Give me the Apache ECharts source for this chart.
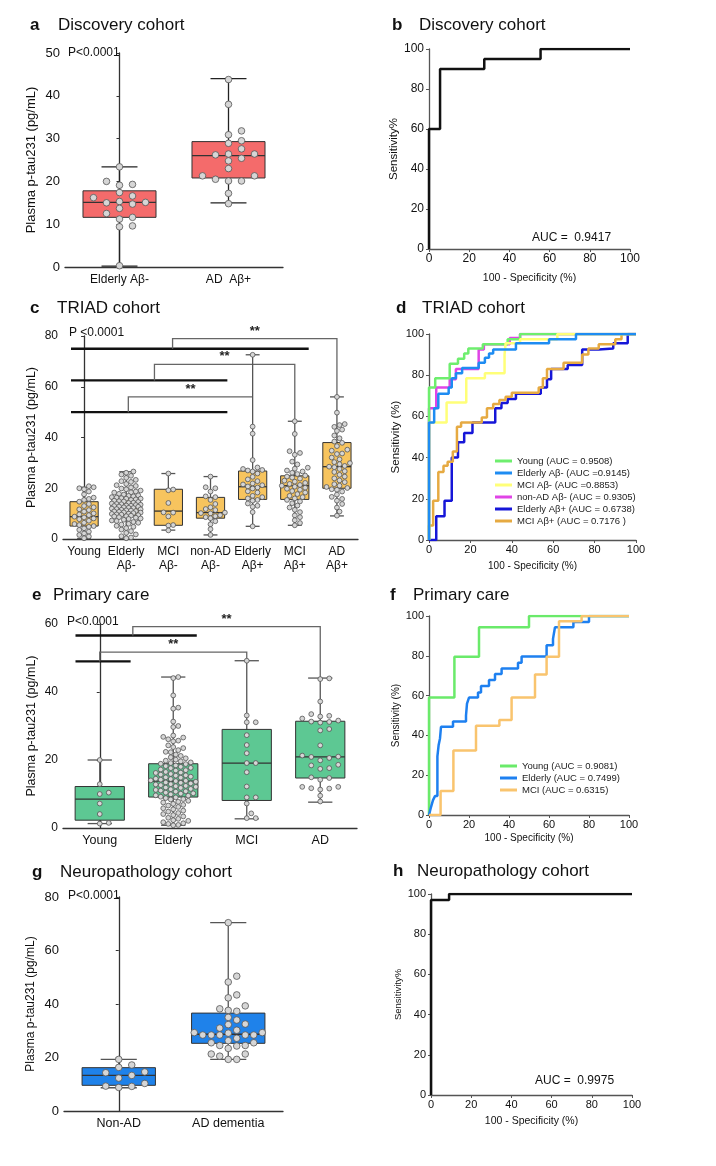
<!DOCTYPE html>
<html lang="en">
<head>
<meta charset="UTF-8">
<title>Plasma p-tau231 across cohorts</title>
<script src="https://cdn.jsdelivr.net/npm/echarts@6/dist/echarts.min.js"></script>
<style>body { margin: 0; background: #fff; }</style>
</head>
<body>
<div id="main" style="width: 716px; height: 1166px"></div>
<script>
var FONT = "'Liberation Sans', Arial, Helvetica, sans-serif";

// a - discovery cohort
var catA = ['Elderly Aβ-', 'AD  Aβ+'];
var boxA = [[0.2, 11.6, 15.1, 17.8, 23.4], [15.0, 20.8, 26.0, 29.3, 44.0]];
var ptsA = [
    [23.4, 20.0, 19.3, 19.1, 17.4, 16.6, 16.2, 15.3, 15.1, 15.0, 14.7, 13.7, 12.5, 11.6, 11.2, 9.6, 9.4, 0.3],
    [43.8, 38.0, 31.8, 30.9, 29.5, 28.9, 27.6, 26.4, 26.4, 26.2, 25.4, 24.8, 23.0, 21.3, 21.3, 20.5, 20.1, 20.1, 17.2, 14.8]
];

// b - discovery ROC
var rocB = [[0, 0], [0, 60], [5.5, 60], [5.5, 90], [27.5, 90], [27.5, 95], [55.5, 95], [55.5, 100], [100, 100]];

// c - TRIAD cohort
var catC = ['Young', 'Elderly\nAβ-', 'MCI\nAβ-', 'non-AD\nAβ-', 'Elderly\nAβ+', 'MCI\nAβ+', 'AD\nAβ+'];
var boxC = [
    [0.2, 5.1, 8.8, 14.7, 20.4],
    [0.3, 9.2, 13.0, 16.0, 26.5],
    [3.5, 5.4, 11.0, 19.6, 25.8],
    [1.6, 8.2, 10.4, 16.4, 24.6],
    [5.0, 15.6, 20.6, 26.8, 72.6],
    [5.4, 15.6, 21.0, 24.9, 46.4],
    [9.1, 20.0, 28.5, 38.0, 56.0]
];
var ptsC = [
    [20.8, 20.4, 20.0, 19.6, 18.7, 17.6, 16.3, 15.8, 15.4, 14.7, 13.8, 13.0, 12.5, 11.7, 11.4, 10.8, 10.1, 9.7, 9.4, 8.8, 8.5, 8.1, 7.8, 7.2, 6.4, 5.9, 5.5, 5.1, 4.8, 4.2, 3.6, 2.9, 2.2, 1.6, 1.0, 0.3],
    [26.6, 26.1, 25.4, 24.9, 24.1, 23.3, 22.8, 22.5, 21.7, 21.2, 20.9, 20.3, 19.9, 19.6, 19.1, 18.7, 18.4, 18.3, 17.8, 17.5, 17.2, 17.0, 16.8, 16.5, 16.3, 16.1, 15.9, 15.9, 15.6, 15.4, 15.1, 14.9, 14.8, 14.6, 14.3, 14.2, 14.0, 13.8, 13.7, 13.5, 13.4, 13.2, 13.1, 13.0, 12.8, 12.7, 12.5, 12.3, 12.2, 12.0, 11.8, 11.7, 11.5, 11.3, 11.2, 11.0, 10.9, 10.7, 10.5, 10.4, 10.2, 10.0, 9.9, 9.7, 9.6, 9.4, 9.2, 9.0, 8.9, 8.6, 8.4, 8.1, 7.9, 7.6, 7.3, 7.1, 6.7, 6.4, 6.0, 5.7, 5.2, 4.8, 4.3, 3.7, 3.1, 2.4, 1.8, 1.1, 0.6, 0.3],
    [25.8, 19.5, 19.2, 14.2, 10.5, 10.4, 8.9, 5.5, 5.3, 3.4],
    [24.6, 20.4, 20.0, 18.7, 16.8, 16.5, 15.4, 13.8, 12.5, 11.8, 11.4, 10.4, 10.2, 10.1, 9.4, 9.0, 8.6, 8.2, 7.0, 5.8, 3.9, 1.6],
    [72.6, 44.3, 41.5, 31.1, 28.2, 27.6, 27.2, 27.0, 26.6, 25.8, 24.5, 23.5, 22.8, 21.9, 21.5, 21.2, 20.7, 20.3, 19.9, 18.8, 18.3, 17.0, 16.5, 16.0, 15.4, 15.1, 14.0, 13.1, 12.7, 10.6, 5.0],
    [46.4, 41.4, 34.6, 33.9, 33.2, 30.5, 29.4, 28.1, 27.7, 27.0, 26.6, 26.1, 25.6, 25.0, 24.6, 24.2, 23.8, 23.0, 22.6, 22.1, 21.7, 21.3, 21.0, 20.6, 20.2, 19.8, 19.4, 18.9, 18.3, 17.7, 17.0, 16.5, 16.0, 15.4, 14.8, 14.1, 13.2, 12.4, 11.5, 10.6, 9.3, 8.6, 7.4, 6.3, 5.4],
    [56.0, 49.8, 45.3, 44.9, 44.2, 43.1, 42.6, 40.8, 39.7, 38.4, 37.9, 36.6, 35.2, 34.8, 33.7, 33.5, 32.1, 31.4, 30.3, 29.9, 29.5, 28.8, 28.5, 28.3, 27.6, 26.7, 26.4, 25.3, 24.6, 23.9, 23.1, 22.4, 21.6, 21.0, 20.5, 20.1, 19.6, 19.4, 18.7, 17.5, 16.6, 15.8, 15.1, 13.8, 12.4, 10.8, 9.2]
];
// [from x, to x, y] and [x, y start, y top, x end, y end]
var barsC = [[-0.31, 5.33, 75], [-0.31, 3.4, 62.5], [-0.31, 3.4, 50]];
var bracketsC = [[2.1, 75, 79, 6, 56], [1.67, 62.5, 68.8, 5, 46.4], [1.05, 50, 56, 4, 56]];

// d - TRIAD ROC
var namesD = ['Young (AUC = 0.9508)', 'Elderly Aβ- (AUC =0.9145)', 'MCI Aβ- (AUC =0.8853)', 'non-AD Aβ- (AUC = 0.9305)', 'Elderly Aβ+ (AUC = 0.6738)', 'MCI Aβ+ (AUC = 0.7176 )'];
var colorsD = ['#6eee6e', '#1e8cf2', '#ffff78', '#e044e6', '#1616d8', '#e6aa42'];
var youngD = [[0, 0], [0, 74], [3, 74], [3, 78.5], [10, 78.5], [10, 85.5], [14, 85.5], [14, 88], [17, 88], [17, 90.5], [19, 90.5], [19, 93], [26, 93], [26, 95], [38, 95], [38, 97.5], [44, 97.5], [44, 100], [100, 100]];
var elderlyNegD = [[0, 0], [0, 57], [2.5, 57], [2.5, 64], [4.5, 64], [4.5, 71], [9.5, 71], [9.5, 74], [11, 74], [11, 78.5], [13, 78.5], [13, 81], [16, 81], [16, 83.5], [24, 83.5], [24, 86], [27, 86], [27, 88.5], [29, 88.5], [29, 90.5], [31, 90.5], [31, 92.5], [42, 92.5], [42, 95.5], [58, 95.5], [58, 97.5], [71, 97.5], [71, 100], [100, 100]];
var mciNegD = [[0, 0], [0, 57], [8.5, 57], [8.5, 66.8], [18, 66.8], [18, 78.5], [27, 78.5], [27, 81], [36.5, 81], [36.5, 90], [37, 90], [37, 95.5], [44, 95.5], [44, 97.5], [62, 97.5], [62, 100], [100, 100]];
var nonAdD = [[0, 0], [0, 64], [3.5, 64], [3.5, 74], [10, 74], [10, 78], [13, 78], [13, 83], [24, 83], [24, 92.5], [26.5, 92.5], [26.5, 95], [39, 95], [39, 98], [44, 98], [44, 100], [100, 100]];
var elderlyPosD = [[0, 0], [3.5, 0], [3.5, 11.5], [7.5, 11.5], [7.5, 19], [11, 19], [11, 40], [14, 40], [14, 47.5], [17, 47.5], [17, 52], [21, 52], [21, 57], [32, 57], [32, 64], [35, 64], [35, 66.5], [38, 66.5], [38, 68.5], [42, 68.5], [42, 71], [54, 71], [54, 74], [57, 74], [57, 78], [59, 78], [59, 83], [67, 83], [67, 85], [74, 85], [74, 92.5], [82, 92.5], [82, 93], [89, 93], [89, 95.5], [96, 95.5], [96, 100], [100, 100]];
var mciPosD = [[0, 0], [0, 7], [2, 7], [2, 19], [4.5, 19], [4.5, 33], [7, 33], [7, 36], [9, 36], [9, 38], [11.5, 38], [11.5, 43], [13.5, 43], [13.5, 55], [15.5, 55], [15.5, 57], [25.5, 57], [25.5, 59.5], [28, 59.5], [28, 64], [31, 64], [31, 66], [34, 66], [34, 68], [37, 68], [37, 69.5], [40, 69.5], [40, 71.5], [53, 71.5], [53, 74], [55, 74], [55, 78.5], [57, 78.5], [57, 83], [65, 83], [65, 86], [74, 86], [74, 90], [77, 90], [77, 93], [82, 93], [82, 95], [90, 95], [90, 97.5], [93, 97.5], [93, 100], [100, 100]];

// e - primary care
var catE = ['Young', 'Elderly', 'MCI', 'AD'];
var boxE = [[1.3, 2.3, 8.5, 12.2, 20.0], [0.8, 9.1, 13.8, 18.9, 44.4], [2.7, 8.1, 19.1, 29.0, 49.2], [7.6, 14.7, 20.9, 31.4, 44.1]];
var ptsE = [
    [20.0, 12.9, 10.4, 10.0, 7.2, 4.1, 1.5, 1.3],
    [44.4, 44.1, 39.0, 35.4, 35.1, 31.3, 30.0, 29.7, 27.2, 26.8, 26.6, 26.1, 25.7, 25.5, 24.3, 23.8, 23.5, 22.9, 22.4, 22.3, 21.6, 21.2, 20.8, 20.5, 20.1, 19.8, 19.6, 19.3, 19.1, 18.9, 18.8, 18.4, 18.2, 18.0, 17.7, 17.6, 17.2, 17.0, 16.9, 16.5, 16.3, 16.2, 15.9, 15.7, 15.5, 15.4, 15.1, 14.9, 14.8, 14.5, 14.4, 14.2, 14.0, 13.9, 13.8, 13.6, 13.4, 13.3, 13.1, 12.9, 12.8, 12.6, 12.4, 12.3, 12.1, 11.9, 11.8, 11.5, 11.4, 11.2, 11.0, 10.8, 10.7, 10.4, 10.2, 10.1, 9.9, 9.6, 9.5, 9.2, 9.0, 8.8, 8.5, 8.4, 8.0, 7.7, 7.5, 7.1, 6.8, 6.6, 6.2, 5.8, 5.5, 5.1, 4.8, 4.4, 4.1, 3.8, 3.4, 3.0, 2.7, 2.3, 2.1, 1.7, 1.4, 1.2, 0.9, 0.8],
    [49.2, 33.1, 31.1, 31.1, 27.3, 24.4, 22.0, 19.1, 19.1, 16.4, 12.2, 9.0, 9.0, 7.2, 4.3, 2.9, 2.9],
    [44.0, 43.8, 37.2, 33.5, 33.0, 32.8, 32.2, 31.6, 31.3, 31.2, 31.0, 29.1, 28.7, 24.3, 21.3, 21.0, 20.9, 20.6, 19.9, 18.6, 18.4, 17.6, 17.4, 14.9, 14.7, 14.2, 12.1, 12.1, 11.7, 11.6, 11.3, 9.5, 7.8]
];
var barsE = [[-0.33, 1.32, 56.6], [-0.33, 0.42, 49.0]];
var bracketsE = [[0.45, 56.6, 59.2, 3, 44.1], [0.0, 49.0, 51.7, 2, 49.2]];

// f - primary care ROC
var namesF = ['Young (AUC = 0.9081)', 'Elderly (AUC = 0.7499)', 'MCI (AUC = 0.6315)'];
var colorsF = ['#6aea6a', '#1e80f0', '#f9c46e'];
var youngF = [[0, 0], [0, 59], [12.7, 59], [12.7, 79.5], [25, 79.5], [25, 94.3], [50, 94.3], [50, 100], [100, 100]];
var elderlyF = [[0, 0], [1, 0], [1, 4], [2, 4], [2, 7.5], [3, 7.5], [3, 9.5], [4.2, 9.5], [4.2, 29.5], [4.8, 29.5], [4.8, 35], [5.5, 35], [5.5, 38.5], [6, 38.5], [6, 44.3], [12, 44.3], [12, 47], [18.5, 47], [18.5, 50], [19, 50], [19, 56], [20, 56], [20, 59], [24.5, 59], [24.5, 61.5], [26, 61.5], [26, 64.8], [30, 64.8], [30, 67.8], [33, 67.8], [33, 70.8], [36.3, 70.8], [36.3, 73.6], [44.5, 73.6], [44.5, 76.5], [46.3, 76.5], [46.3, 79.6], [58.8, 79.6], [58.8, 85.3], [62, 85.3], [62, 88.5], [62.5, 88.5], [62.5, 91.5], [63, 91.5], [63, 94.4], [72.2, 94.4], [72.2, 97], [80, 97], [80, 100], [100, 100]];
var mciF = [[0, 0], [5.8, 0], [5.8, 12], [12.2, 12], [12.2, 32.4], [23.5, 32.4], [23.5, 44.9], [35.2, 44.9], [35.2, 47.7], [41.3, 47.7], [41.3, 59.1], [53, 59.1], [53, 70.6], [58.8, 70.6], [58.8, 79.5], [65, 79.5], [65, 97.3], [76.3, 97.3], [76.3, 100], [100, 100]];

// g - neuropathology cohort
var catG = ['Non-AD', 'AD dementia'];
var boxG = [[8.7, 9.6, 13.3, 16.2, 19.3], [19.3, 25.3, 28.7, 36.6, 70.4]];
var ptsG = [
    [19.3, 17.2, 16.3, 14.6, 14.3, 13.3, 12.3, 10.3, 9.3, 9.2, 8.8],
    [70.4, 50.4, 48.2, 43.4, 42.3, 39.3, 38.2, 37.6, 37.3, 35.0, 34.0, 32.5, 32.3, 31.0, 30.2, 29.3, 29.3, 29.1, 28.4, 28.4, 28.4, 28.4, 28.4, 27.2, 26.3, 25.5, 25.5, 24.5, 24.5, 24.3, 23.4, 21.3, 21.3, 20.5, 19.3, 19.3]
];

// h - neuropathology ROC
var rocH = [[0, 0], [0, 97], [9, 97], [9, 100], [100, 100]];

var myChart = echarts.init(document.getElementById('main'));

// each dot takes the nearest offset (a multiple of sp) from the centre where it overlaps nothing
function swarm(ys, r, sp, maxW) {
    var order = ys.map(function (y, k) { return k; }).sort(function (a, b) { return ys[b] - ys[a]; });
    var placed = [], xs = [];
    order.forEach(function (k) {
        var best = null, alt = 0, altD = -1;
        for (var j = 0; j < 60; j++) {
            var off = (j % 2 === 1 ? 1 : -1) * Math.ceil(j / 2) * sp;
            if (Math.abs(off) > maxW + 0.5) continue;
            var minD = Infinity;
            placed.forEach(function (p) {
                var dx = p[0] - off, dy = p[1] - ys[k];
                var d = Math.sqrt(dx * dx + dy * dy) / (2 * r);
                if (d < minD) minD = d;
            });
            if (minD >= 1) { best = off; break; }
            if (minD > altD) { altD = minD; alt = off; }
        }
        if (best === null) best = alt;
        xs[k] = best;
        placed.push([best, ys[k]]);
    });
    return xs;
}

function boxRender(stats, pts, fill, r, sp, whisker) {
    return function (params, api) {
        var i = params.dataIndex, s = stats[i];
        var cx = api.coord([i, 0])[0];
        var band = api.size([1, 0])[0];
        var hw = band * 0.335, cw = band * 0.165;
        var Y = function (v) { return api.coord([i, v])[1]; };
        var ws = { stroke: whisker, lineWidth: 1.3 };
        var kids = [
            { type: 'line', shape: { x1: cx, y1: Y(s[0]), x2: cx, y2: Y(s[4]) }, style: ws },
            { type: 'line', shape: { x1: cx - cw, y1: Y(s[0]), x2: cx + cw, y2: Y(s[0]) }, style: ws },
            { type: 'line', shape: { x1: cx - cw, y1: Y(s[4]), x2: cx + cw, y2: Y(s[4]) }, style: ws },
            { type: 'rect', shape: { x: cx - hw, y: Y(s[3]), width: hw * 2, height: Y(s[1]) - Y(s[3]) }, style: { fill: fill, stroke: '#333', lineWidth: 1 } },
            { type: 'line', shape: { x1: cx - hw, y1: Y(s[2]), x2: cx + hw, y2: Y(s[2]) }, style: { stroke: '#333', lineWidth: 1.3 } }
        ];
        var ys = pts[i].map(Y);
        var xs = swarm(ys, r, sp[i], hw);
        ys.forEach(function (y, k) {
            kids.push({ type: 'circle', shape: { cx: cx + xs[k], cy: y, r: r }, style: { fill: '#d6d6d6', stroke: '#555', lineWidth: 0.8 } });
        });
        return { type: 'group', children: kids };
    };
}

function bracketRender(bars, brk) {
    return function (params, api) {
        var t = bars[params.dataIndex], b = brk[params.dataIndex];
        var p1 = api.coord([t[0], t[2]]), p2 = api.coord([t[1], t[2]]);
        var pts = [api.coord([b[0], b[1]]), api.coord([b[0], b[2]]), api.coord([b[3], b[2]]), api.coord([b[3], b[4]])];
        var mid = api.coord([(b[0] + b[3]) / 2, b[2]]);
        return { type: 'group', children: [
            { type: 'line', shape: { x1: p1[0], y1: p1[1], x2: p2[0], y2: p2[1] }, style: { stroke: '#111', lineWidth: 2.4 } },
            { type: 'polyline', shape: { points: pts }, style: { stroke: '#666', lineWidth: 1.3, fill: null } },
            { type: 'text', x: mid[0], y: mid[1] - 1, style: { text: '**', font: 'bold 13px ' + FONT, fill: '#222', textAlign: 'center', textVerticalAlign: 'bottom', align: 'center', verticalAlign: 'bottom' } }
        ] };
    };
}

function catAxis(grid, data, size, margin) {
    return {
        type: 'category', gridIndex: grid, data: data,
        axisLine: { lineStyle: { color: '#333', width: 1.3 } },
        axisTick: { alignWithLabel: true, length: 3, lineStyle: { color: '#333' } },
        axisLabel: { interval: 0, fontSize: size, fontFamily: FONT, color: '#111', margin: margin, lineHeight: 14 }
    };
}
function hiddenAxis(grid, n) {
    return { type: 'value', gridIndex: grid, min: -0.5, max: n - 0.5, show: false };
}
function rocX(grid, size, nameSize, gap) {
    return {
        type: 'value', gridIndex: grid, min: 0, max: 100, interval: 20,
        name: '100 - Specificity (%)', nameLocation: 'middle', nameGap: gap,
        nameTextStyle: { fontSize: nameSize, fontFamily: FONT, color: '#111' },
        splitLine: { show: false },
        axisLine: { show: true, lineStyle: { color: '#555', width: 1.3 } },
        axisTick: { show: true, length: 3, lineStyle: { color: '#555' } },
        axisLabel: { fontSize: size, fontFamily: FONT, color: '#111', margin: 4 }
    };
}
function valY(grid, max, interval, name, size, nameSize, gap, color) {
    return {
        type: 'value', gridIndex: grid, min: 0, max: max, interval: interval,
        name: name, nameLocation: 'middle', nameGap: gap,
        nameTextStyle: { fontSize: nameSize, fontFamily: FONT, color: '#111' },
        splitLine: { show: false },
        axisLine: { show: true, lineStyle: { color: color, width: 1.3 } },
        axisTick: { show: true, length: 3, lineStyle: { color: color } },
        axisLabel: { fontSize: size, fontFamily: FONT, color: '#111', margin: 5 }
    };
}
function rocLine(name, x, y, data, color) {
    return {
        name: name, type: 'line', xAxisIndex: x, yAxisIndex: y, data: data,
        symbol: 'none', lineStyle: { width: 2.5, color: color }, itemStyle: { color: color }, z: 3
    };
}
function txt(x, y, s, font) {
    return { type: 'text', x: x, y: y, silent: true, style: { text: s, font: font, fill: '#111', textVerticalAlign: 'middle', verticalAlign: 'middle' } };
}
function idx(arr) { return arr.map(function (c, i) { return [i, 0]; }); }

var PLASMA = 'Plasma p-tau231 (pg/mL)';

myChart.setOption({
    animation: false,
    grid: [
        { left: 65, top: 53, width: 218, height: 214 },
        { left: 429, top: 49, width: 201, height: 200 },
        { left: 63, top: 336, width: 295, height: 203 },
        { left: 429, top: 334, width: 207, height: 206 },
        { left: 63, top: 624, width: 294, height: 204 },
        { left: 429, top: 616, width: 200, height: 199 },
        { left: 64, top: 897, width: 219, height: 214 },
        { left: 431, top: 894, width: 201, height: 201 }
    ],
    xAxis: [
        catAxis(0, catA, 12, 6), hiddenAxis(0, 2),
        rocX(1, 12, 10.5, 24),
        catAxis(2, catC, 12, 6), hiddenAxis(2, 7),
        rocX(3, 11, 10, 21),
        catAxis(4, catE, 12.5, 6), hiddenAxis(4, 4),
        rocX(5, 11, 10, 18),
        catAxis(6, catG, 12.5, 6), hiddenAxis(6, 2),
        rocX(7, 11, 10.5, 21)
    ],
    yAxis: [
        valY(0, 50, 10, PLASMA, 13, 13, 27, '#333'),
        valY(1, 100, 20, 'Sensitivity%', 12, 11.5, 27, '#555'),
        valY(2, 80, 20, PLASMA, 12, 12.5, 25, '#333'),
        valY(3, 100, 20, 'Sensitivity (%)', 11, 11.5, 26, '#555'),
        valY(4, 60, 20, PLASMA, 12, 12.5, 25, '#333'),
        valY(5, 100, 20, 'Sensitivity (%)', 11, 10, 26, '#555'),
        valY(6, 80, 20, PLASMA, 13, 12, 27, '#333'),
        valY(7, 100, 20, 'Sensitivity%', 11, 9.5, 28, '#555')
    ],
    legend: [
        { data: namesD, orient: 'vertical', left: 490, top: 451, icon: 'rect', itemWidth: 17, itemHeight: 3, itemGap: 2, selectedMode: false, textStyle: { fontSize: 9.5, fontFamily: FONT, color: '#222' } },
        { data: namesF, orient: 'vertical', left: 495, top: 756, icon: 'rect', itemWidth: 17, itemHeight: 3, itemGap: 2, selectedMode: false, textStyle: { fontSize: 9.5, fontFamily: FONT, color: '#222' } }
    ],
    graphic: [
        txt(30, 25, 'a', 'bold 17px ' + FONT), txt(58, 25, 'Discovery cohort', '17px ' + FONT),
        txt(392, 25, 'b', 'bold 17px ' + FONT), txt(419, 25, 'Discovery cohort', '17px ' + FONT),
        txt(30, 308, 'c', 'bold 17px ' + FONT), txt(57, 308, 'TRIAD cohort', '17px ' + FONT),
        txt(396, 308, 'd', 'bold 17px ' + FONT), txt(422, 308, 'TRIAD cohort', '17px ' + FONT),
        txt(32, 595, 'e', 'bold 17px ' + FONT), txt(53, 595, 'Primary care', '17px ' + FONT),
        txt(390, 595, 'f', 'bold 17px ' + FONT), txt(413, 595, 'Primary care', '17px ' + FONT),
        txt(32, 872, 'g', 'bold 17px ' + FONT), txt(60, 872, 'Neuropathology cohort', '17px ' + FONT),
        txt(393, 871, 'h', 'bold 17px ' + FONT), txt(417, 871, 'Neuropathology cohort', '17px ' + FONT),
        txt(68, 53, 'P<0.0001', '12px ' + FONT),
        txt(69, 333, 'P <0.0001', '12px ' + FONT),
        txt(67, 622, 'P<0.0001', '12px ' + FONT),
        txt(68, 896, 'P<0.0001', '12px ' + FONT),
        txt(532, 238, 'AUC =  0.9417', '12px ' + FONT),
        txt(535, 1081, 'AUC =  0.9975', '12px ' + FONT)
    ],
    series: [
        { type: 'custom', xAxisIndex: 1, yAxisIndex: 0, data: idx(catA), renderItem: boxRender(boxA, ptsA, '#f46b6b', 3.3, [13, 13], '#222'), silent: true },
        { type: 'line', xAxisIndex: 2, yAxisIndex: 1, data: rocB, symbol: 'none', lineStyle: { width: 2.5, color: '#111' }, z: 3 },

        { type: 'custom', xAxisIndex: 4, yAxisIndex: 2, data: idx(barsC), renderItem: bracketRender(barsC, bracketsC), silent: true },
        { type: 'custom', xAxisIndex: 4, yAxisIndex: 2, data: idx(catC), renderItem: boxRender(boxC, ptsC, '#f7c45e', 2.4, [4.8, 2.4, 4.8, 4.8, 4.8, 2.6, 2.6], '#555'), silent: true },

        rocLine(namesD[3], 5, 3, nonAdD, colorsD[3]),
        rocLine(namesD[4], 5, 3, elderlyPosD, colorsD[4]),
        rocLine(namesD[5], 5, 3, mciPosD, colorsD[5]),
        rocLine(namesD[0], 5, 3, youngD, colorsD[0]),
        rocLine(namesD[2], 5, 3, mciNegD, colorsD[2]),
        rocLine(namesD[1], 5, 3, elderlyNegD, colorsD[1]),

        { type: 'custom', xAxisIndex: 7, yAxisIndex: 4, data: idx(barsE), renderItem: bracketRender(barsE, bracketsE), silent: true },
        { type: 'custom', xAxisIndex: 7, yAxisIndex: 4, data: idx(catE), renderItem: boxRender(boxE, ptsE, '#5dc893', 2.4, [9, 2.5, 4.5, 9], '#555'), silent: true },

        rocLine(namesF[0], 8, 5, youngF, colorsF[0]),
        rocLine(namesF[1], 8, 5, elderlyF, colorsF[1]),
        rocLine(namesF[2], 8, 5, mciF, colorsF[2]),

        { type: 'custom', xAxisIndex: 10, yAxisIndex: 6, data: idx(catG), renderItem: boxRender(boxG, ptsG, '#1f82ea', 3.3, [13, 8.5], '#555'), silent: true },
        { type: 'line', xAxisIndex: 11, yAxisIndex: 7, data: rocH, symbol: 'none', lineStyle: { width: 2.5, color: '#111' }, z: 3 }
    ]
});
</script>
</body>
</html>
